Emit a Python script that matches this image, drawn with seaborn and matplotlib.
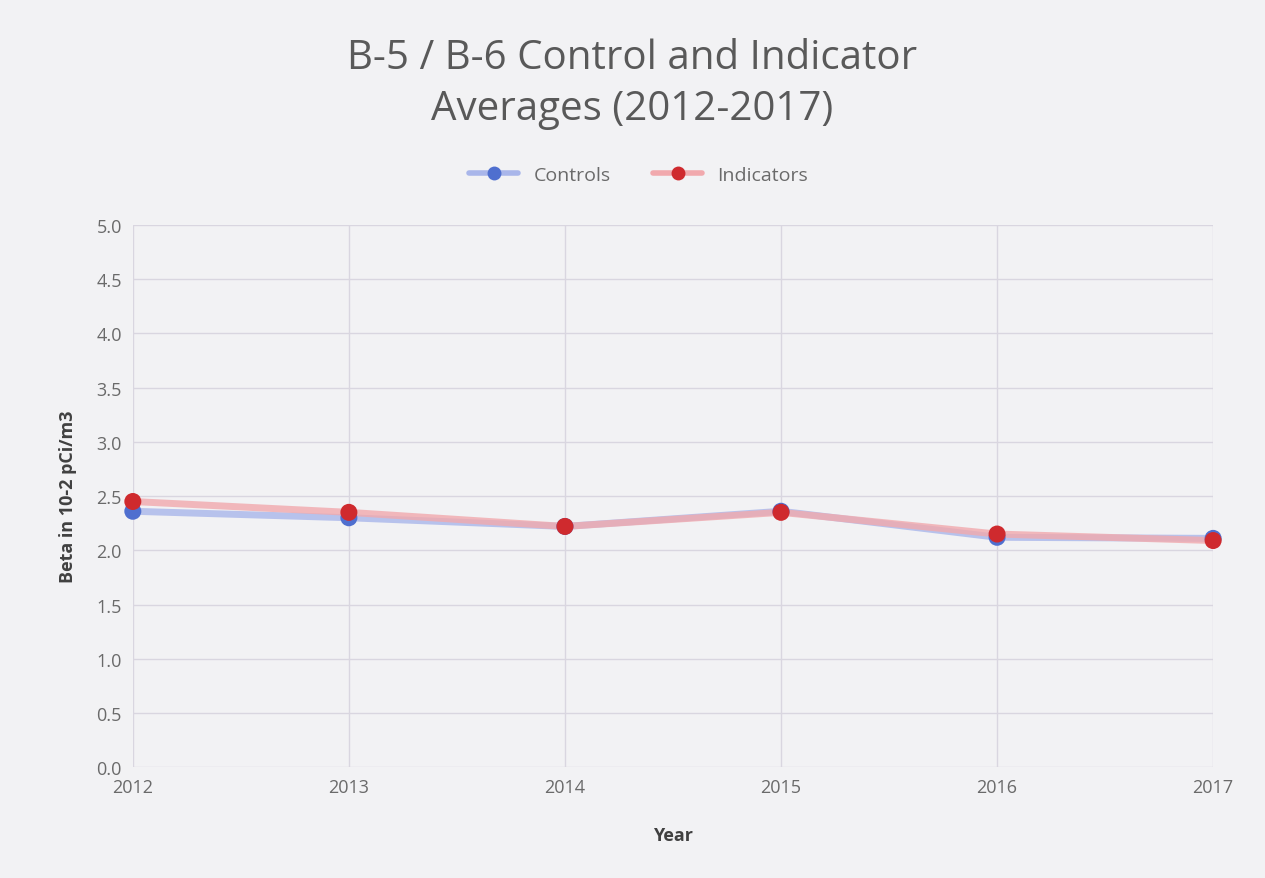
import pandas as pd
import matplotlib
matplotlib.use("Agg")
import matplotlib.pyplot as plt
import seaborn as sns
from matplotlib.lines import Line2D

years = [2012, 2013, 2014, 2015, 2016, 2017]
controls = [2.36, 2.30, 2.22, 2.36, 2.12, 2.11]
indicators = [2.45, 2.35, 2.22, 2.35, 2.15, 2.09]
y_ticks = [0.0, 0.5, 1.0, 1.5, 2.0, 2.5, 3.0, 3.5, 4.0, 4.5, 5.0]

df = pd.DataFrame({"Year": years * 2,
                   "Value": controls + indicators,
                   "Series": ["Controls"] * 6 + ["Indicators"] * 6})

sns.set_theme(style="white")
plt.rcParams["font.family"] = ["Open Sans", "DejaVu Sans"]

bg = "#f2f2f4"
fig = plt.figure(figsize=(12.65, 8.79), dpi=100, facecolor=bg)
ax = fig.add_axes([0.105, 0.126, 0.854, 0.617], facecolor=bg)

line_cols = {"Controls": "#a9b6ea", "Indicators": "#f1a9ad"}
mark_cols = {"Controls": "#4f6fcf", "Indicators": "#cf2a2e"}

for name in ["Controls", "Indicators"]:
    sub = df[df["Series"] == name]
    sns.lineplot(data=sub, x="Year", y="Value", ax=ax, color=line_cols[name],
                 linewidth=5, alpha=0.8, legend=False)
    sns.scatterplot(data=sub, x="Year", y="Value", ax=ax, color=mark_cols[name],
                    s=150, edgecolor="none", zorder=5, legend=False, clip_on=False)

ax.set_xlim(2012, 2017)
ax.set_ylim(0, 5)
ax.set_xticks(years)
ax.set_xticklabels([str(y) for y in years])
ax.set_yticks(y_ticks)
ax.set_yticklabels([f"{v:.1f}" for v in y_ticks])
ax.grid(True, color="#d9d6e0", linewidth=1)
for s in ax.spines.values():
    s.set_visible(False)
ax.tick_params(axis="both", colors="#6a6a6a", labelsize=13, length=0, pad=8)

ax.set_xlabel("Year", fontsize=13, fontweight="bold", color="#404040", labelpad=21)
ax.set_ylabel("Beta in 10-2 pCi/m3", fontsize=13, fontweight="bold", color="#404040", labelpad=14)

fig.text(0.5, 0.904, "B-5 / B-6 Control and Indicator\nAverages (2012-2017)",
         ha="center", va="center", fontsize=29, color="#595959", linespacing=1.36)

handles = [Line2D([0], [0], color=line_cols[n], lw=4, marker="o", markersize=10,
                  markerfacecolor=mark_cols[n], markeredgecolor="none") for n in ["Controls", "Indicators"]]
leg = fig.legend(handles, ["Controls", "Indicators"], loc="center", bbox_to_anchor=(0.505, 0.80),
                 ncol=2, frameon=False, fontsize=14, handlelength=2.5, columnspacing=2.2)
for t in leg.get_texts():
    t.set_color("#6a6a6a")

fig.savefig("out.png", dpi=100, facecolor=bg)
